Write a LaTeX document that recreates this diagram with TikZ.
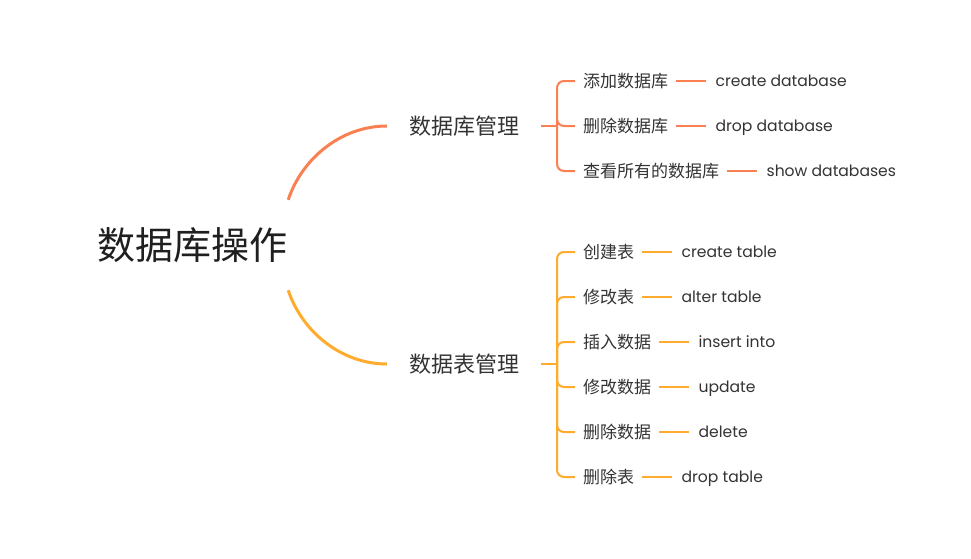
\documentclass[tikz,border=0pt]{standalone}
\usepackage{fontspec}
\setmainfont{Noto Sans CJK SC}
\newfontfamily\cmdfont{Poppins}
\usetikzlibrary{positioning}
\definecolor{dbline}{HTML}{FA8052}
\definecolor{tbline}{HTML}{FFAB2E}
\definecolor{txt}{HTML}{333333}

\begin{document}
\begin{tikzpicture}[x=1pt,y=-1pt,every node/.style={text=txt},topic/.style={font=\fontsize{38}{40}\selectfont,minimum height=90pt,inner xsep=1pt,text=black!88},sub/.style={font=\fontsize{22}{24}\selectfont,inner xsep=22pt},leaf/.style={font=\fontsize{17}{19}\selectfont,inner xsep=8pt,anchor=west},cmd/.style={font=\cmdfont\fontsize{15.6}{18}\selectfont,inner xsep=9pt,anchor=base west},link/.style={line width=2pt,rounded corners=7pt}]
    \useasboundingbox (0,0) rectangle (971,558);
    \node[topic] (root) at (192,245) {数据库操作};
    \node[sub] (db) at (464,126) {数据库管理};
    \node[sub] (tb) at (464,364) {数据表管理};
    \coordinate (dbfork) at (557,126);
    \coordinate (tbfork) at (557,364);
    % main branches
    \draw[dbline,line width=3pt] (root.north east) .. controls +(14,-42) and +(-45,0) .. (db.west);
    \draw[tbline,line width=3pt] (root.south east) .. controls +(14,42) and +(-45,0) .. (tb.west);
    \draw[link,dbline] (db) -- (dbfork);
    \draw[link,tbline] (tb) -- (tbfork);
    % database commands
    \foreach \name/\y/\cn/\en in {add/81/添加数据库/create database,del/126/删除数据库/drop database,show/171/查看所有的数据库/show databases}{
      \node[leaf] (\name) at (575,\y) {\cn};
      \node[cmd] (\name-cmd) at ([xshift=30pt,yshift=1pt]\name.base east) {\en};
      \draw[link,dbline] (dbfork) |- (\name);
      \draw[link,dbline] (\name.east) -- (\name.east -| \name-cmd.west);
    }
    % table commands
    \foreach \name/\y/\cn/\en in {create/252/创建表/create table,alter/297/修改表/alter table,insert/342/插入数据/insert into,update/387/修改数据/update,delete/432/删除数据/delete,drop/477/删除表/drop table}{
      \node[leaf] (\name) at (575,\y) {\cn};
      \node[cmd] (\name-cmd) at ([xshift=30pt,yshift=1pt]\name.base east) {\en};
      \draw[link,tbline] (tbfork) |- (\name);
      \draw[link,tbline] (\name.east) -- (\name.east -| \name-cmd.west);
    }
\end{tikzpicture}
\end{document}
